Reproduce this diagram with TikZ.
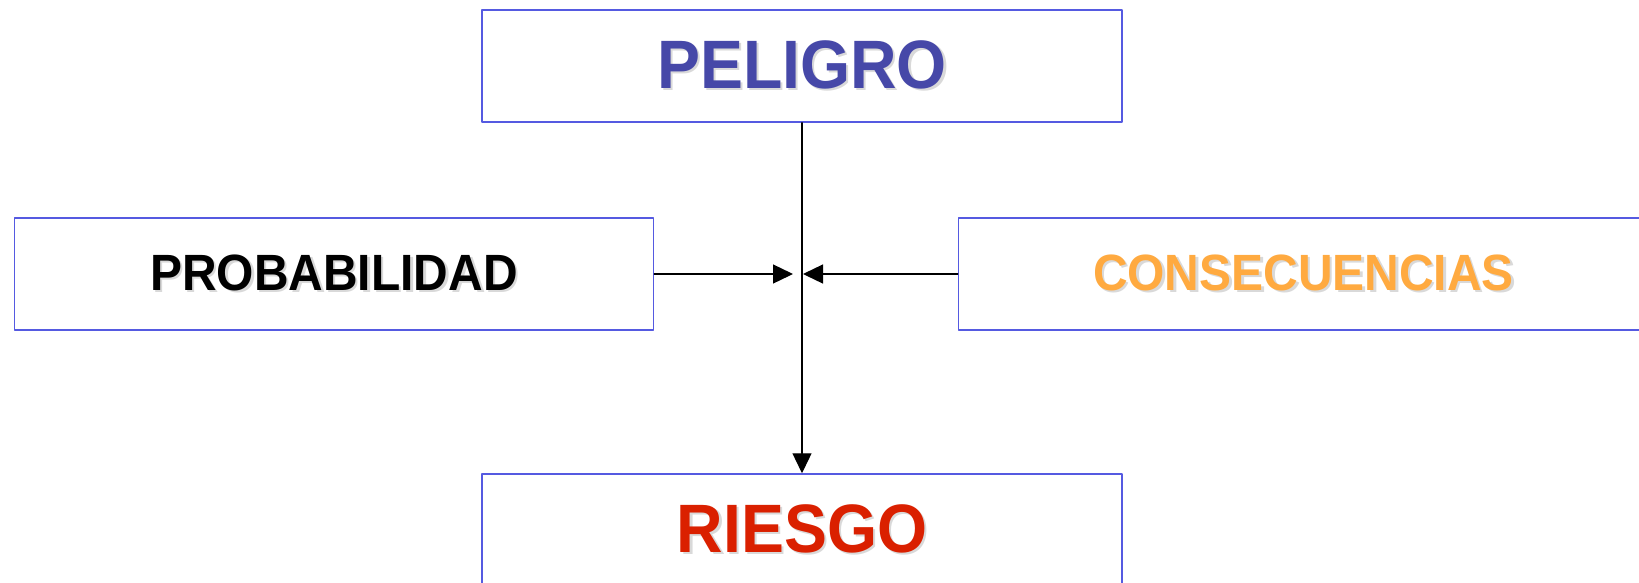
\documentclass[tikz,border=0pt]{standalone}
\usepackage{fontspec}
\setmainfont{Liberation Sans}[FakeStretch=0.94]
\usetikzlibrary{arrows.meta}
\definecolor{boxblue}{RGB}{85,90,225}
\definecolor{peligroblue}{RGB}{70,72,168}
\definecolor{riesgored}{RGB}{218,32,0}
\definecolor{consorange}{RGB}{255,170,64}
\newcommand{\sombra}[2]{\makebox[0pt][l]{\hspace{2.5pt}\raisebox{-2.5pt}{\color{black!15}#2}}{\color{#1}#2}}
\tikzset{
  caja/.style={draw=boxblue, line width=1.5pt, minimum height=112pt, inner sep=0pt},
  grande/.style={font=\fontsize{68.5}{74}\selectfont\bfseries},
  chica/.style={font=\fontsize{51}{57}\selectfont\bfseries},
  flecha/.style={line width=1.3pt, -{Triangle[length=20pt,width=19pt]}}
}
\begin{document}
\begin{tikzpicture}[x=1pt, y=-1pt, line cap=round, line join=round]
	% Marco de la imagen
	\useasboundingbox (0,0) rectangle (1639,582);
	\clip (0,0) rectangle (1639,582);
	
	% Cajas
	\node[caja, grande, minimum width=640pt] (peligro) at (802,66) {\sombra{peligroblue}{PELIGRO}};
	\node[caja, chica, minimum width=639pt] (probabilidad) at (334,274) {\sombra{black}{PROBABILIDAD}};
	\node[caja, chica, minimum width=690pt] (consecuencias) at (1303.5,274) {\sombra{consorange}{CONSECUENCIAS}};
	\node[caja, grande, minimum width=640pt] (riesgo) at (802,530) {\sombra{riesgored}{RIESGO}};
	
	% Puntos de llegada
	\coordinate (izq) at (793,274);
	\coordinate (der) at (803,274);
	
	% Flechas
	\draw[flecha] (peligro) -- (riesgo);
	\draw[flecha] (probabilidad) -- (izq);
	\draw[flecha] (consecuencias) -- (der);
\end{tikzpicture}
\end{document}
